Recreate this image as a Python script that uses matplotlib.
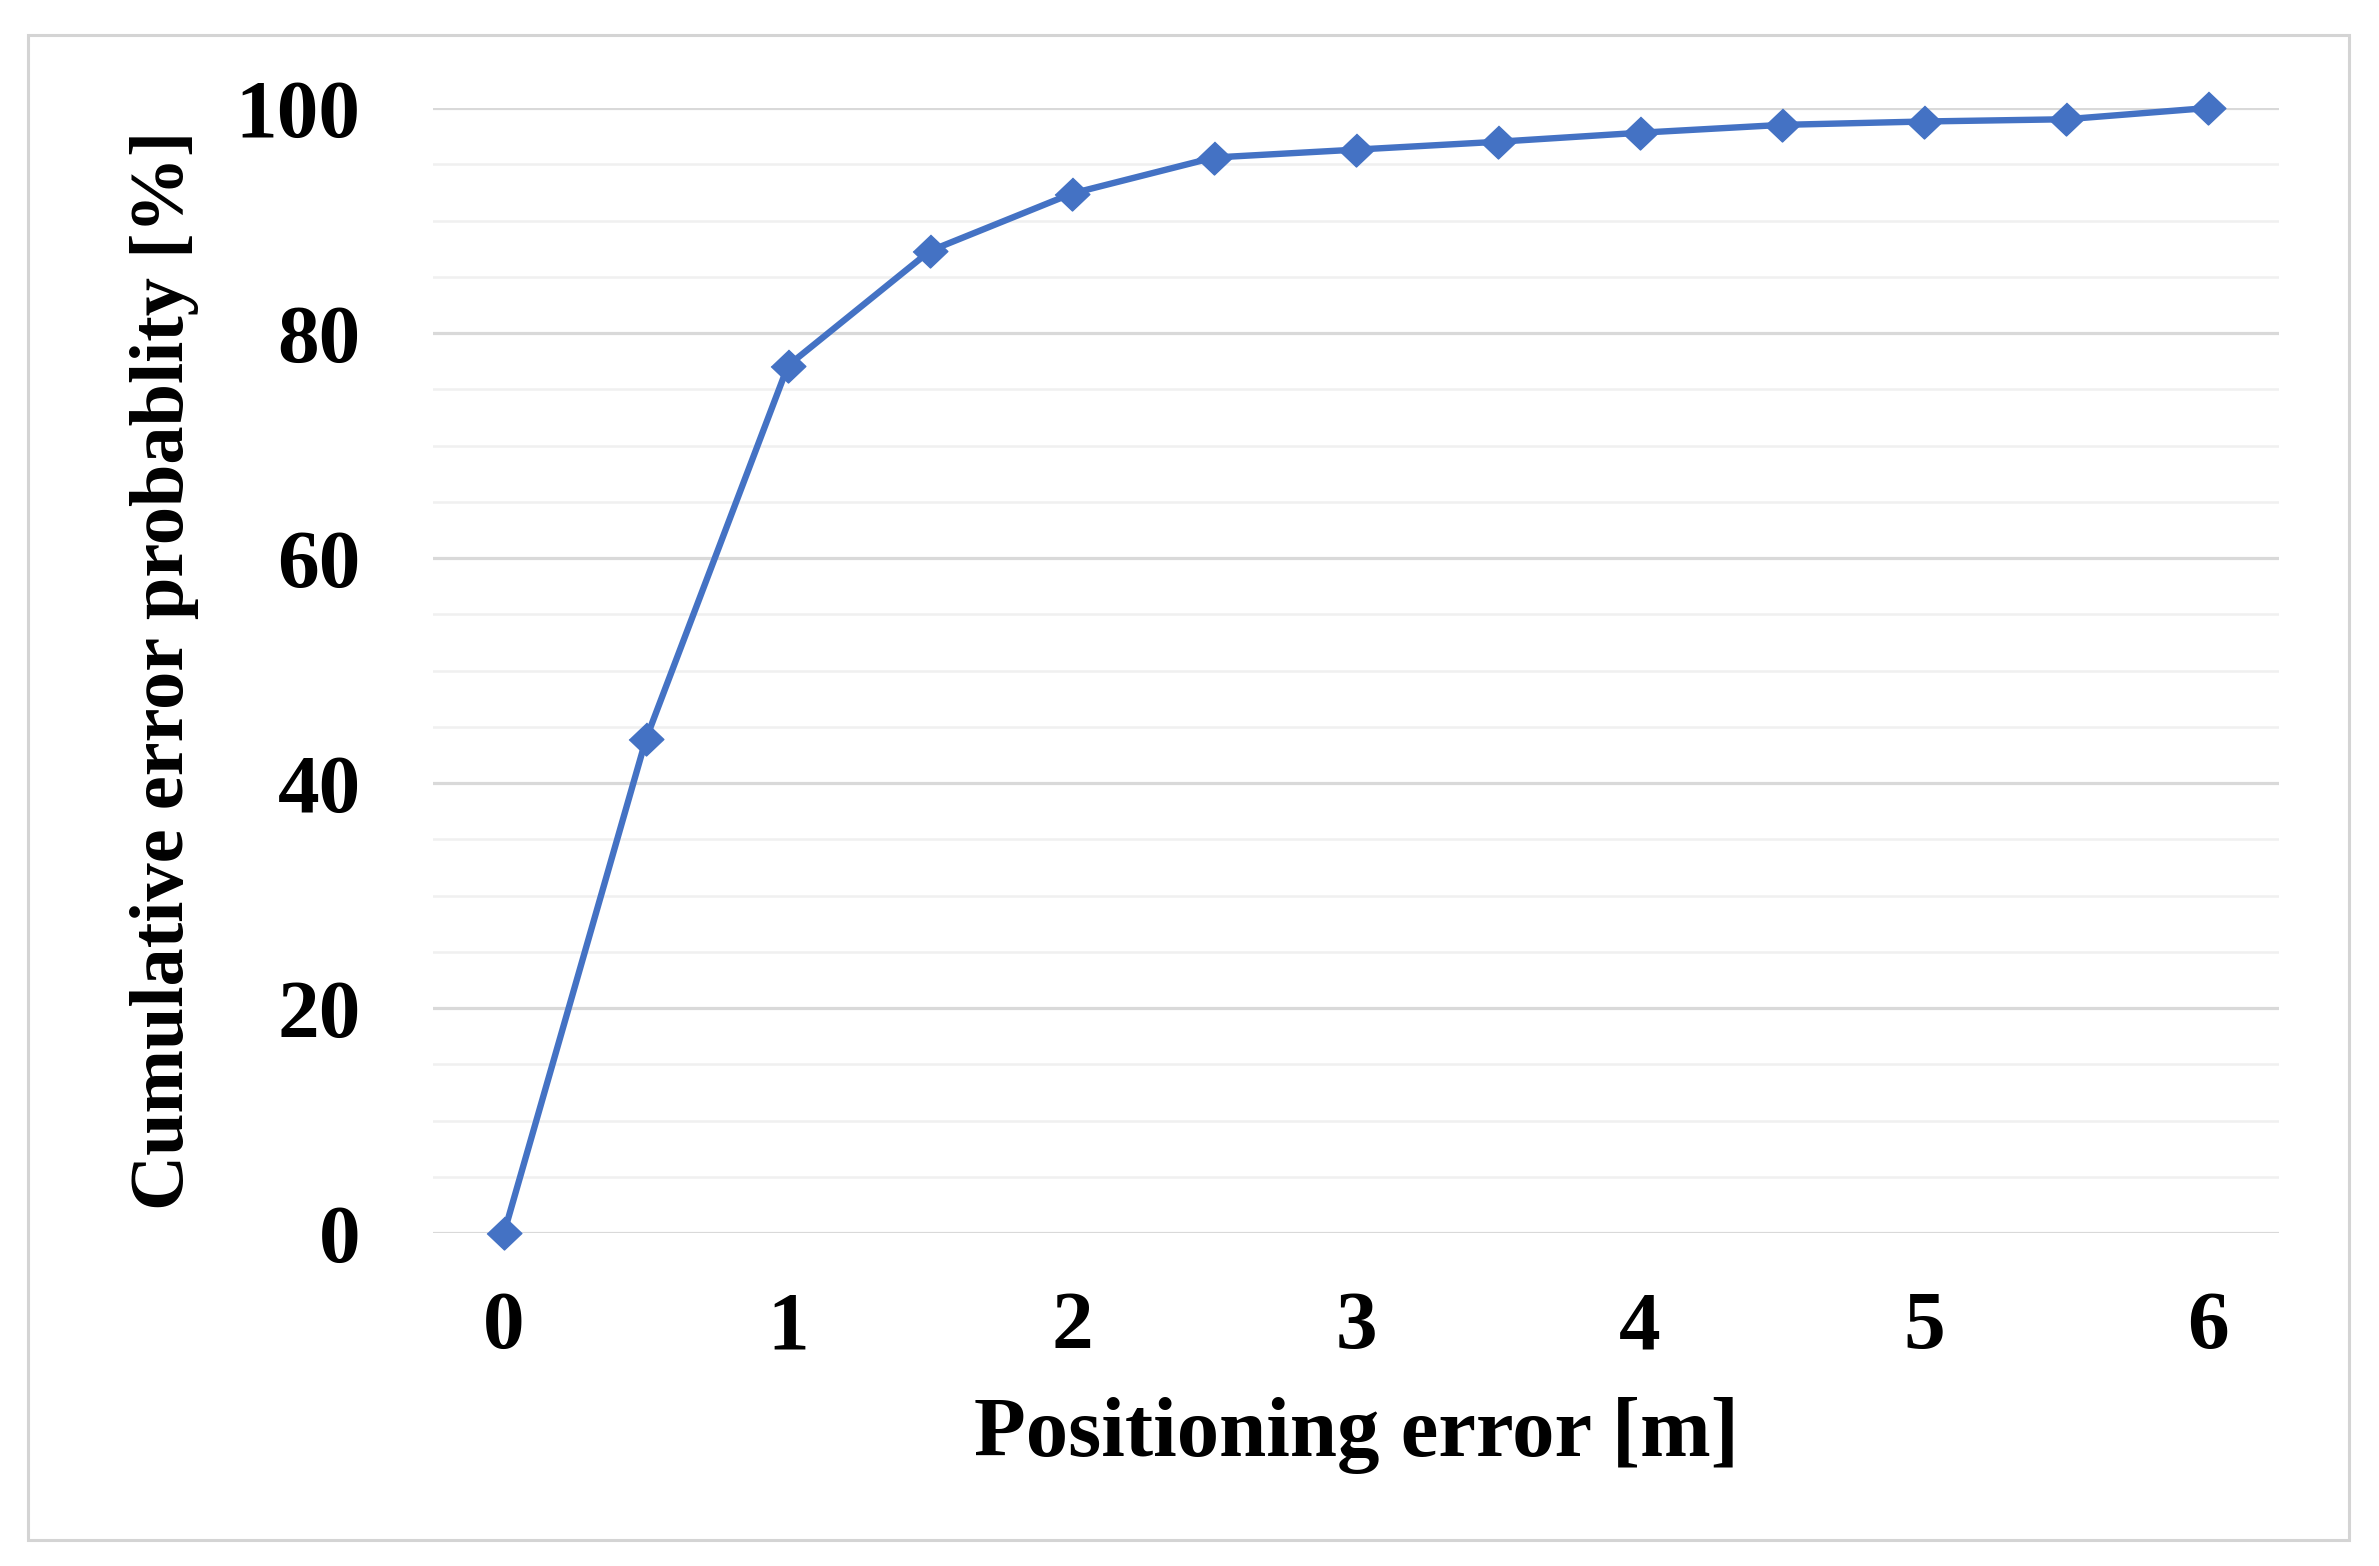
import numpy as np
import matplotlib
matplotlib.use("Agg")
from matplotlib import pyplot as plt
from matplotlib.patches import Rectangle
from matplotlib.ticker import MultipleLocator

# data
error_m = [0, 0.5, 1, 1.5, 2, 2.5, 3, 3.5, 4, 4.5, 5, 5.5, 6]
cum_prob = [0, 43.9, 77.1, 87.3, 92.4, 95.6, 96.3, 97.0, 97.8, 98.5, 98.8, 99.0, 100]
x_ticks = [0, 1, 2, 3, 4, 5, 6]
y_ticks = [0, 20, 40, 60, 80, 100]

plt.rcParams['font.family'] = ['Liberation Serif', 'DejaVu Serif']
plt.rcParams['font.weight'] = 'bold'

W, H = 2379, 1566
fig = plt.figure(figsize=(W / 100, H / 100), dpi=100)

# outer chart border
fig.patches.append(Rectangle((28 / W, 1 - 1540 / H), (2349 - 28) / W, (1540 - 35) / H,
                             transform=fig.transFigure, fill=False,
                             edgecolor='#d4d4d4', linewidth=2.2))

ax = fig.add_axes([433 / W, 1 - 1233 / H, (2279 - 433) / W, (1233 - 108) / H])
ax.set_xlim(-0.25, 6.25)
ax.set_ylim(0, 100)

ax.yaxis.set_minor_locator(MultipleLocator(5))
ax.grid(axis='y', which='minor', color='#f0f0f0', linewidth=1.8, zorder=0)
ax.grid(axis='y', which='major', color='#d9d9d9', linewidth=2.3, zorder=0)

# wide Excel-style diamond
diamond = [(0, 0.95), (1, 0), (0, -0.95), (-1, 0)]
ax.plot(error_m, cum_prob, color='#4472C4', linewidth=4.6,
        marker=diamond, markersize=25, clip_on=False, zorder=3)

ax.set_xticks(x_ticks)
ax.set_yticks(y_ticks)
ax.tick_params(axis='both', which='both', length=0, labelsize=60)
ax.tick_params(axis='y', pad=52)
ax.tick_params(axis='x', pad=42)

for s in ax.spines.values():
    s.set_visible(False)

ax.set_xlabel('Positioning error [m]', fontsize=61, fontweight='bold')
ax.set_ylabel('Cumulative error probablity [%]', fontsize=55, fontweight='bold')
ax.xaxis.set_label_coords(0.5, -0.146)
ax.yaxis.set_label_coords(-0.127, 0.5)

fig.savefig('out.png', dpi=100)
